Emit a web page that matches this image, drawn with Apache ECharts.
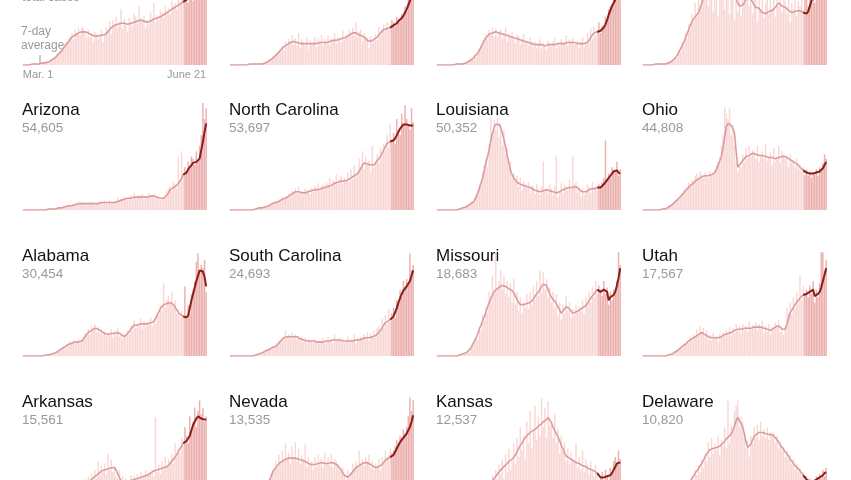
<!DOCTYPE html>
<html><head><meta charset="utf-8">
<script src="https://cdn.jsdelivr.net/npm/echarts@6/dist/echarts.min.js"></script>
<style>html,body{margin:0;padding:0;background:#fff}#c{width:851px;height:480px}</style>
</head><body><div id="c"></div>
<script>
// Relative daily cases (0-100 = panel scale), March 1 - June 21 (113 days)
const tickLabels = ['Mar. 1', 'June 21'];
const panelNames = ['', '', '', '', 'Arizona', 'North Carolina', 'Louisiana', 'Ohio', 'Alabama', 'South Carolina', 'Missouri', 'Utah', 'Arkansas', 'Nevada', 'Kansas', 'Delaware'];
const panelTotals = ['', '', '', '', '54,605', '53,697', '50,352', '44,808', '30,454', '24,693', '18,683', '17,567', '15,561', '13,535', '12,537', '10,820'];

const p1Daily = [0,0,0,1,0,1,1,2,1,1, 1,2,2,3,2,4,3,5,6,7, 8,10,12,14,16,19,20,22,25,27, 30,24,33,29,35,28,36,34,32,25, 33,26,30,22,31,29,24,28,33,21, 27,35,33,41,29,42,38,45,35,40, 52,34,43,37,31,44,40,36,48,45, 39,55,44,40,46,35,42,38,49,43, 58,40,47,42,52,49,44,55,50,53, 47,60,55,58,52,62,57,64,59,70, 66,58,72,68,60,75,73,78,70,85, 80,88,95];
const p1Avg = [0,0,0,0,0,1,1,1,1,1, 1,1,2,2,2,3,3,4,5,6, 7,9,10,12,14,16,18,20,22,24, 26,27,28,29,30,30,31,31,31,30, 30,29,28,28,27,27,27,27,28,28, 28,29,31,33,35,36,37,38,38,39, 39,39,39,38,38,38,39,39,40,41, 41,42,42,42,41,41,40,40,41,42, 43,43,44,45,45,46,47,48,49,50, 51,52,53,54,55,56,57,58,59,60, 61,62,63,65,66,68,69,71,72,74, 76,78,80];

const p2Daily = [0,0,0,0,0,0,0,0,0,0, 0,1,1,1,0,2,1,1,2,1, 1,2,3,3,5,6,8,7,10,12, 13,15,18,14,22,17,24,20,28,19, 25,18,30,16,24,21,18,26,15,23, 19,22,26,17,25,21,28,18,24,20, 27,19,25,22,30,20,26,24,21,32, 24,28,26,33,29,35,27,40,26,31, 33,22,30,24,25,16,27,20,24,29, 23,36,28,34,38,32,40,33,37,42, 40,36,45,43,41,48,46,55,50,62, 65,70,75];
const p2Avg = [0,0,0,0,0,0,0,0,0,0, 0,0,1,1,1,1,1,1,1,1, 1,2,2,3,4,5,6,7,9,10, 12,14,15,17,18,19,20,21,21,22, 22,21,21,20,20,20,20,20,20,20, 20,20,20,20,21,21,21,21,21,21, 22,22,22,23,23,23,23,24,24,25, 25,26,27,28,29,30,30,30,29,28, 28,27,26,25,23,22,22,23,24,25, 26,28,30,31,33,34,34,35,35,36, 37,38,39,41,42,44,46,49,52,56, 60,64,68];

const p3Daily = [0,0,0,0,0,0,0,0,0,0, 1,0,1,2,1,1,2,1,3,3, 4,6,5,9,8,12,14,18,22,26, 29,24,33,28,35,27,34,26,31,33, 24,30,35,22,29,25,31,24,20,28, 27,19,24,29,20,23,18,26,22,17, 22,16,20,24,15,21,18,14,23,20, 17,22,25,16,21,18,24,19,22,28, 18,24,22,25,19,20,23,16,22,26, 17,21,30,20,34,24,36,27,33,40, 30,37,34,45,40,52,55,57,62,65, 72,80,90];
const p3Avg = [0,0,0,0,0,0,0,0,0,0, 0,1,1,1,1,1,1,2,2,3, 4,5,6,8,9,11,14,17,20,23, 25,27,29,30,30,31,31,30,30,29, 29,28,28,27,27,26,26,25,25,24, 24,23,23,22,22,21,21,21,20,20, 19,19,19,19,19,18,18,19,19,19, 19,19,19,19,20,20,20,20,20,21, 21,21,21,21,21,20,20,20,20,20, 20,20,21,23,26,28,30,30,31,31, 32,33,35,38,42,47,51,55,58,61, 66,72,80];

const p4Daily = [0,0,0,0,0,1,0,1,1,2, 1,2,1,2,1,3,2,3,4,5, 8,7,14,12,22,18,30,25,38,33, 48,40,58,45,70,52,75,60,68,85, 55,72,90,50,68,80,45,74,62,88, 52,70,95,48,66,78,42,60,50,72, 46,64,85,58,75,55,80,48,70,62, 40,66,50,72,44,58,62,48,75,52, 68,45,70,55,82,50,64,60,48,72, 40,58,52,66,46,60,55,70,48,62, 64,55,72,60,68,58,76,62,70,74, 66,80,78];
const p4Avg = [0,0,0,0,0,0,0,0,1,1, 1,1,1,1,1,2,2,3,4,5, 7,9,12,15,18,21,25,29,33,37, 40,43,45,47,49,53,58,62,65,67, 68,69,69,68,68,67,67,66,66,65, 65,65,64,64,63,63,62,61,58,55, 54,56,58,61,62,63,62,59,56,54, 54,53,51,49,48,48,49,50,51,51, 52,54,56,58,57,55,54,54,53,51, 50,49,49,50,51,51,51,50,49,48, 48,50,55,60,64,67,70,72,74,76, 78,80,82];

const azDaily = [0,0,0,0,0,0,0,0,0,0, 0,0,0,0,1,0,1,1,1,2, 1,2,2,3,2,4,3,4,5,4, 5,6,4,7,6,8,5,7,6,5, 7,5,8,6,5,7,6,8,6,7, 9,6,7,10,6,8,7,9,12,8, 10,8,13,11,9,12,14,10,16,13, 11,14,12,15,10,13,11,16,14,12, 15,11,13,10,9,12,10,13,18,20, 22,18,26,24,20,50,26,55,32,40, 36,45,38,50,48,42,55,46,60,70, 100,85,95];
const azAvg = [0,0,0,0,0,0,0,0,0,0, 0,0,0,0,0,0,1,1,1,1, 1,1,2,2,2,3,3,3,4,4, 4,5,5,6,6,6,6,6,6,6, 6,6,6,6,6,6,6,6,7,7, 7,7,7,7,7,7,7,7,8,8, 9,9,10,10,11,11,11,12,12,12, 12,12,12,12,12,12,12,13,13,13, 13,13,12,12,11,11,11,12,14,16, 19,20,21,22,23,25,27,30,33,34, 35,38,40,42,44,45,45,45,48,56, 64,73,81];

const ncDaily = [0,0,0,0,0,0,0,0,0,0, 0,0,0,1,0,1,1,2,2,3, 2,3,4,4,5,6,7,6,9,8, 10,9,12,11,13,12,15,14,18,17, 20,16,22,15,18,14,20,17,19,15, 21,17,23,19,25,18,22,24,20,26, 24,30,21,28,26,33,24,29,32,25, 30,27,35,26,38,29,42,31,36,48, 40,55,38,50,42,46,36,60,40,45, 52,44,58,50,62,55,70,58,80,66, 72,62,85,75,70,90,78,98,85,80, 75,95,82];
const ncAvg = [0,0,0,0,0,0,0,0,0,0, 0,0,0,0,0,1,1,1,2,2, 2,3,3,4,4,5,6,6,7,8, 8,9,10,10,11,12,13,14,15,16, 17,17,17,17,16,16,16,16,17,17, 18,18,19,19,19,20,20,20,21,21, 22,23,23,24,25,25,26,26,27,27, 27,28,28,29,30,31,32,33,34,36, 39,42,44,44,43,42,42,42,42,44, 46,48,50,53,56,59,62,63,64,65, 65,67,70,73,76,78,80,81,80,79, 79,80,79];

const laDaily = [0,0,0,0,0,0,0,0,0,0, 0,0,1,0,1,2,2,3,4,5, 6,8,7,11,14,18,24,22,35,42, 48,40,62,86,70,84,75,86,68,80, 60,75,52,58,40,45,30,34,26,32, 22,30,18,27,24,20,26,16,23,22, 15,24,20,14,22,45,18,20,16,24, 20,14,22,50,12,18,25,16,24,22, 18,28,20,50,24,26,16,22,12,20, 14,18,24,22,16,26,20,23,18,24, 22,26,30,65,28,34,30,40,38,36, 45,32,38];
const laAvg = [0,0,0,0,0,0,0,0,0,0, 0,0,0,0,1,1,2,2,3,4, 5,6,7,9,12,16,20,25,30,37, 44,50,57,65,72,77,80,81,80,77, 72,66,59,51,44,37,33,30,28,26, 25,24,23,23,22,22,21,21,20,19, 18,18,17,17,18,18,19,19,19,18, 18,17,17,16,16,17,18,19,20,20, 20,21,21,21,22,22,21,19,18,17, 16,17,18,19,20,20,20,20,21,21, 21,22,24,26,28,30,32,34,36,37, 37,35,34];

const ohDaily = [0,0,0,0,0,0,0,0,0,0, 0,1,1,2,1,3,3,5,6,7, 9,10,12,14,16,18,20,22,26,24, 28,26,32,34,30,36,33,30,35,31, 30,36,32,34,38,42,45,50,60,70, 96,90,85,95,70,80,60,45,36,42, 40,52,45,58,48,60,50,56,55,48, 60,45,52,55,48,62,46,50,54,42, 58,45,50,60,44,55,52,48,50,40, 52,44,46,40,48,38,42,36,40,33, 38,32,36,30,35,33,38,32,40,36, 44,52,48];
const ohAvg = [0,0,0,0,0,0,0,0,0,0, 0,0,1,1,1,2,3,4,5,6, 8,9,11,12,14,16,18,19,21,23, 24,25,27,28,29,30,31,31,32,32, 32,33,33,33,35,38,42,46,50,58, 68,78,81,81,79,76,72,55,40,42, 44,46,48,50,50,51,52,53,53,52, 52,51,51,51,51,50,50,49,49,49, 48,48,49,49,50,50,50,50,49,48, 47,46,45,44,43,42,40,39,37,36, 35,35,34,34,34,34,35,35,36,37, 39,42,45];

const alDaily = [0,0,0,0,0,0,0,0,0,0, 0,0,0,1,0,1,2,1,2,3, 2,4,5,7,6,9,8,11,10,14, 12,15,11,14,16,12,15,18,21,19, 25,20,28,24,30,22,27,21,25,20, 23,18,22,19,25,17,24,20,26,18, 22,16,21,18,24,20,28,24,34,26, 30,28,35,25,33,27,32,29,36,28, 34,30,40,38,48,42,68,45,52,56, 50,60,46,52,40,44,36,42,38,65, 35,48,40,58,62,70,88,96,80,85, 82,90,60];
const alAvg = [0,0,0,0,0,0,0,0,0,0, 0,0,0,0,1,1,1,1,2,2, 3,4,5,6,7,8,9,10,11,12, 12,13,13,13,13,13,14,16,18,20, 22,23,24,25,26,26,25,24,23,22, 21,20,20,20,21,21,21,21,22,21, 20,19,18,19,21,23,25,27,29,29, 29,30,30,30,30,30,30,31,31,31, 32,35,38,41,44,46,48,49,49,50, 50,50,48,46,43,41,39,38,37,36, 36,38,45,52,58,64,70,75,80,80, 79,74,65];

const scDaily = [0,0,0,0,0,0,0,0,0,0, 0,0,0,0,1,0,1,2,1,2, 3,4,5,6,8,7,9,8,10,12, 14,13,17,15,24,18,20,16,22,17, 20,16,19,14,18,13,17,12,16,14, 15,12,16,14,11,15,13,17,12,14, 18,13,16,12,20,14,15,17,13,16, 12,15,18,13,16,14,20,12,17,15, 18,15,20,16,22,14,21,18,24,17, 26,28,22,35,26,38,30,44,32,40, 45,36,52,48,62,55,70,65,72,68, 96,80,85];
const scAvg = [0,0,0,0,0,0,0,0,0,0, 0,0,0,0,0,1,1,1,2,2, 3,4,5,6,6,7,8,8,9,10, 12,14,15,17,18,18,18,18,18,18, 18,18,17,16,16,15,15,14,14,14, 14,14,13,13,13,13,13,13,14,14, 14,14,15,15,15,15,15,15,14,14, 14,14,14,14,14,14,15,15,15,15, 16,16,16,17,17,17,18,18,19,19, 20,22,24,26,29,31,32,33,34,35, 37,41,45,50,54,58,61,63,65,66, 70,75,80];

const moDaily = [0,0,0,0,0,0,0,0,0,0, 0,0,0,1,0,2,1,3,2,5, 4,7,10,12,18,15,28,24,38,33, 45,40,60,52,75,58,97,64,70,80, 62,75,58,70,55,68,50,72,48,60, 42,55,40,50,45,58,44,60,48,65, 52,70,56,80,60,78,62,72,55,64, 50,60,45,58,38,50,34,48,40,56, 42,50,36,44,38,48,40,46,42,52, 40,55,46,60,50,65,55,70,58,66, 62,56,70,58,64,48,60,52,62,58, 70,97,85];
const moAvg = [0,0,0,0,0,0,0,0,0,0, 0,0,0,0,1,1,2,2,3,4, 6,8,11,14,17,21,25,29,33,37, 41,46,50,54,57,60,62,63,64,65, 66,66,65,64,63,62,61,59,56,53, 50,48,48,48,49,49,50,50,51,53, 56,58,59,62,65,67,68,66,62,58, 55,53,52,49,46,43,40,42,44,46, 46,44,42,40,40,41,42,43,44,45, 45,47,49,52,54,56,58,60,62,61, 60,61,62,62,60,52,55,56,57,60, 66,73,82];

const utDaily = [0,0,0,0,0,0,0,0,0,0, 0,0,0,0,1,1,2,1,3,2, 4,6,5,8,7,11,10,14,12,18, 15,20,17,25,19,28,22,26,18,24, 15,20,14,22,16,19,13,21,17,22, 18,24,20,27,19,26,22,30,23,28, 21,30,24,28,22,32,25,29,27,31, 24,30,26,33,22,28,23,30,20,27, 25,31,27,34,22,26,20,28,45,40, 50,38,55,44,60,48,75,52,65,58, 62,55,66,58,70,50,62,55,68,97, 97,80,90];
const utAvg = [0,0,0,0,0,0,0,0,0,0, 0,0,0,0,0,1,1,2,2,3, 4,5,6,7,9,10,11,12,14,15, 16,17,18,19,20,21,22,21,20,19, 18,17,17,17,17,17,17,18,18,19, 20,20,21,22,22,23,24,24,25,25, 25,25,26,26,26,26,26,27,27,27, 27,27,27,27,26,26,25,25,24,25, 26,27,28,29,27,25,24,25,30,35, 40,43,45,48,50,52,54,56,57,58, 58,59,60,61,62,56,57,58,60,64, 70,76,82];

const arDaily = [0,0,0,0,0,0,0,0,0,0, 0,0,1,1,0,2,2,3,2,4, 5,4,7,6,9,8,12,10,14,11, 15,12,17,14,19,13,20,16,22,15, 24,18,26,20,30,22,38,25,34,28, 36,26,45,30,40,28,34,24,22,30, 18,24,16,22,20,18,25,19,24,20, 26,21,28,22,25,30,24,28,26,30, 24,79,28,35,26,38,30,42,33,40, 38,45,36,55,42,50,46,60,52,70, 62,55,80,68,75,88,70,85,95,82, 88,75,80];
const arAvg = [0,0,0,0,0,0,0,0,0,0, 0,0,0,1,1,1,2,2,3,3, 4,5,6,7,8,9,10,11,12,13, 13,14,15,15,16,16,17,17,18,18, 19,20,21,22,24,25,26,27,29,30, 30,30,31,31,32,32,32,30,26,23, 20,19,18,18,19,20,20,21,21,22, 22,22,23,23,24,24,25,26,27,28, 29,30,30,31,31,31,32,32,33,34, 36,38,40,42,44,47,50,52,55,56, 57,58,62,67,72,75,78,80,79,78, 78,77,77];

const nvDaily = [0,0,0,0,0,0,0,0,0,0, 0,0,1,0,1,2,2,4,5,7, 9,12,14,18,22,26,30,28,38,32, 44,35,48,38,55,40,46,36,52,42, 56,38,50,36,44,40,54,33,42,35, 38,30,42,33,44,35,40,32,46,36, 42,34,45,32,40,38,35,30,28,32, 25,20,30,22,28,36,32,38,34,48, 36,40,34,42,38,44,32,38,30,36, 34,40,30,42,36,48,42,44,50,46, 48,52,58,55,62,60,68,64,70,80, 98,85,95];
const nvAvg = [0,0,0,0,0,0,0,0,0,0, 0,0,0,0,1,1,2,3,4,6, 8,10,13,16,19,23,27,30,32,34, 36,37,38,39,40,40,41,41,41,41, 41,40,40,40,39,39,38,37,36,35, 35,34,35,35,36,36,37,37,36,36, 36,37,37,37,36,36,34,32,30,27, 25,24,23,24,26,28,30,32,33,34, 35,36,36,37,37,36,35,34,33,32, 32,33,34,35,37,39,40,41,42,43, 44,47,50,53,56,58,60,61,64,67, 70,75,81];

const ksDaily = [0,0,0,0,0,0,0,0,0,0, 0,0,0,0,1,1,2,1,3,2, 4,3,6,5,8,7,10,9,14,10, 16,12,20,15,25,18,30,20,35,26, 40,22,45,28,50,30,38,55,36,60, 42,70,48,62,40,75,55,85,50,68, 90,58,80,62,97,70,88,60,94,72, 75,60,82,55,68,45,62,48,56,38, 50,35,46,40,38,55,32,42,30,48, 28,40,35,26,38,30,24,35,28,20, 22,28,18,30,24,20,32,26,38,42, 35,48,40];
const ksAvg = [0,0,0,0,0,0,0,0,0,0, 0,0,0,0,0,1,1,1,2,2, 3,4,5,6,7,8,9,10,11,12, 14,15,17,18,20,22,24,26,28,30, 31,33,34,36,38,39,40,42,44,47, 50,53,55,58,60,62,63,65,66,67, 68,69,71,72,73,75,76,77,79,78, 74,70,67,64,61,57,53,50,46,43, 42,41,40,39,38,37,37,36,35,34, 33,33,32,31,30,30,29,28,27,25, 23,23,23,24,24,25,25,27,30,33, 36,37,37];

const deDaily = [0,0,0,0,0,0,0,0,0,0, 0,0,0,0,0,1,0,1,2,2, 3,5,4,8,10,9,14,12,18,16, 24,20,30,25,34,28,40,32,45,38, 56,42,60,45,55,48,62,44,58,52, 70,50,95,55,72,68,85,90,95,70, 80,75,60,50,58,42,62,55,70,60, 72,58,75,62,68,60,70,58,66,62, 65,55,62,50,56,48,52,42,48,40, 44,35,40,30,36,28,32,24,28,20, 24,18,22,16,20,18,24,20,26,22, 30,24,32];
const deAvg = [0,0,0,0,0,0,0,0,0,0, 0,0,0,0,0,0,0,1,1,2, 3,4,5,7,9,11,13,15,17,19, 22,24,27,29,31,34,36,39,42,45, 47,49,50,50,51,51,51,52,53,55, 57,59,60,62,64,67,71,76,79,76, 73,70,64,56,51,51,54,58,61,63, 64,65,66,65,65,64,64,63,63,63, 62,60,58,56,53,51,49,47,45,43, 40,38,36,34,33,31,29,27,25,23, 21,20,19,19,19,20,21,22,23,24, 25,27,28];

const dailySeries = [p1Daily, p2Daily, p3Daily, p4Daily, azDaily, ncDaily, laDaily, ohDaily, alDaily, scDaily, moDaily, utDaily, arDaily, nvDaily, ksDaily, deDaily];
const avgSeries = [p1Avg, p2Avg, p3Avg, p4Avg, azAvg, ncAvg, laAvg, ohAvg, alAvg, scAvg, moAvg, utAvg, arAvg, nvAvg, ksAvg, deAvg];

const NDAYS = 113, RECENT = 14;
const months = [['Mar', 31], ['Apr', 30], ['May', 31], ['Jun', 30]];
const days = [];
for (const [m, n] of months) for (let d = 1; d <= n && days.length < NDAYS; d++) days.push(m + ' ' + d);

const VIEW_H = 480;
const colLeft = [22, 229, 436, 642];
const rowBase = [65, 210, 356, 502];
const W = 185, H = 107;
const LIGHT_BAR = '#f8d8d6', DARK_BAR = '#ebb0ae', LIGHT_LINE = '#dc9c9c', DARK_LINE = '#8c1d18';
const FONT = '"Liberation Sans", Arial, sans-serif';

const grid = [], xAxis = [], yAxis = [], series = [], graphic = [];
dailySeries.forEach((daily, i) => {
  const r = Math.floor(i / 4), c = i % 4;
  // panels partly outside the picture: keep the visible part of the plot, same scale
  const fullTop = rowBase[r] - H, fullBot = rowBase[r];
  const top = Math.max(0, fullTop), bot = Math.min(VIEW_H, fullBot);
  const yMax = 100 * (fullBot - top) / H;
  const yMin = 100 * (fullBot - bot) / H;
  grid.push({ left: colLeft[c], top: top, width: W, height: bot - top });
  xAxis.push({
    type: 'category', gridIndex: i, data: days, boundaryGap: true,
    axisLine: { show: false }, axisTick: { show: false }, splitLine: { show: false },
    axisLabel: i === 0 ? {
      show: true, margin: 4, fontSize: 11, color: '#999', fontFamily: FONT,
      interval: (idx) => idx === 0 || idx === NDAYS - 1,
      formatter: (v, idx) => idx === 0 ? tickLabels[0] : tickLabels[1],
      alignMinLabel: 'left', alignMaxLabel: 'right'
    } : { show: false }
  });
  yAxis.push({ type: 'value', gridIndex: i, min: yMin, max: yMax, show: false });
  const avg = avgSeries[i];
  series.push({
    type: 'bar', xAxisIndex: i, yAxisIndex: i, barCategoryGap: '12%', silent: true, clip: true,
    data: daily.map((v, d) => ({ value: v, itemStyle: { color: d >= NDAYS - RECENT ? DARK_BAR : LIGHT_BAR } }))
  });
  series.push({
    type: 'line', xAxisIndex: i, yAxisIndex: i, symbol: 'none', silent: true, clip: true,
    lineStyle: { color: LIGHT_LINE, width: 1.6 },
    data: avg.map((v, d) => d <= NDAYS - RECENT ? v : null)
  });
  series.push({
    type: 'line', xAxisIndex: i, yAxisIndex: i, symbol: 'none', silent: true, clip: true,
    lineStyle: { color: DARK_LINE, width: 2 },
    data: avg.map((v, d) => d >= NDAYS - RECENT - 1 ? v : null)
  });
  if (panelNames[i]) {
    graphic.push({ type: 'text', left: colLeft[c], top: rowBase[r] - 108,
      style: { text: panelNames[i], fontSize: 17, fill: '#121212', fontFamily: FONT } });
    graphic.push({ type: 'text', left: colLeft[c], top: rowBase[r] - 89,
      style: { text: panelTotals[i], fontSize: 13.5, fill: '#999', fontFamily: FONT } });
  }
});

// annotations on the first panel
graphic.push({ type: 'text', left: 22, top: -8, style: { text: 'total cases', fontSize: 12, fill: '#999', fontFamily: FONT } });
graphic.push({ type: 'text', left: 21, top: 25, style: { text: '7-day\naverage', fontSize: 12, lineHeight: 14, fill: '#999', fontFamily: FONT } });
graphic.push({ type: 'line', shape: { x1: 40, y1: 55, x2: 40, y2: 63 }, style: { stroke: '#999', lineWidth: 1 } });

const chart = echarts.init(document.getElementById('c'), null, { renderer: 'canvas' });
chart.setOption({ animation: false, backgroundColor: '#fff', grid, xAxis, yAxis, series, graphic });
</script></body></html>
